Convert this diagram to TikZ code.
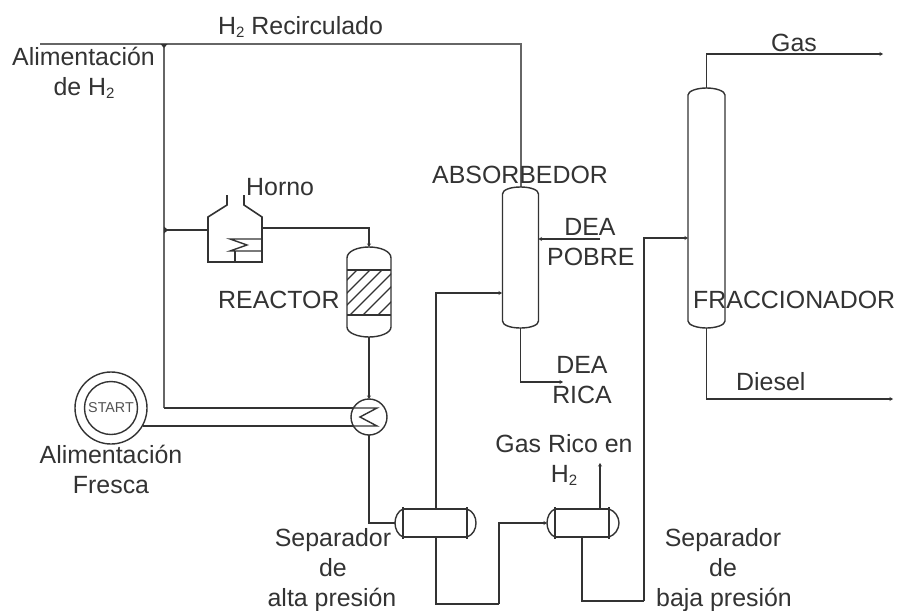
\documentclass[tikz,border=0pt]{standalone}
\usepackage{fontspec}
\setmainfont{Liberation Sans}
\usetikzlibrary{arrows.meta}
\definecolor{ink}{HTML}{333333}
\newcommand{\Hdos}{H\raisebox{-3pt}{\fontsize{15}{15}\selectfont 2}}
\tikzset{
  x=1pt,y=-1pt,
  pipe/.style={draw=ink,line width=1.5pt,line join=miter},
  heavypipe/.style={draw=ink!75,line width=2pt},
  flow/.style={pipe,-{Stealth[length=3.5pt,width=4pt]}},
  equip/.style={draw=ink,line width=1.4pt},
  tick/.style={fill=ink,draw=none},
  shell/.style={draw=none,rectangle,inner sep=0pt,outer sep=0pt},
  lbl/.style={anchor=base,inner sep=0pt,text=ink,font=\fontsize{24.9}{30}\selectfont},
  lblw/.style={anchor=base west,inner sep=0pt,text=ink,font=\fontsize{24.9}{30}\selectfont},
}
\begin{document}
\begin{tikzpicture}
\useasboundingbox (0,0) rectangle (898,611);
\fill[white] (0,0) rectangle (898,611);

% --- equipment anchors
\node[shell,minimum width=36pt,minimum height=141pt] (abs) at (520.5,257.5) {};
\node[shell,minimum width=37pt,minimum height=240pt] (frac) at (706.5,208) {};
\node[shell,minimum width=44pt,minimum height=90pt] (reac) at (369,292) {};
\node[shell,minimum width=54pt,minimum height=45pt] (horno) at (235,239.5) {};
\node[circle,equip,minimum size=36pt,inner sep=0pt,outer sep=0pt] (hx) at (369,417) {};
\node[circle,equip,minimum size=72pt,inner sep=0pt,outer sep=0pt] (start) at (111,408) {};
\node[circle,equip,minimum size=53pt,inner sep=0pt,outer sep=0pt,text=ink!85,font=\fontsize{14.3}{14}\selectfont] (startin) at (111,408) {START};
\node[shell,minimum width=81pt,minimum height=28pt] (sepA) at (435.5,523) {};
\node[shell,minimum width=72pt,minimum height=28pt] (sepB) at (583,523) {};

% --- named stream ends
\coordinate (h2in) at (40,43.5);
\coordinate (tee1) at (164,43.5);
\coordinate (tee2) at (164,230);
\coordinate (corner) at (164,408);
\coordinate (hxA) at (353,408);
\coordinate (hxB) at (353,426);
\coordinate (startout) at (143,426);
\coordinate (hornoIn) at (208,230);
\coordinate (hornoOut) at (262,228);
\coordinate (absGas) at (502,293);
\coordinate (absDea) at (538.5,239);
\coordinate (deaP) at (600,239);
\coordinate (deaR) at (563,382);
\coordinate (fracIn) at (688,238);
\coordinate (gasEnd) at (883,54);
\coordinate (dieselEnd) at (893,399);
\coordinate (gasRico) at (600,463);
\coordinate (sepAtop) at (436,509);
\coordinate (sepAbot) at (436,537);
\coordinate (sepBtop) at (600,509);
\coordinate (sepBbot) at (582,537);
\coordinate (low1) at (499,604);
\coordinate (low2) at (644,601);

% --- H2 lines
\draw[heavypipe] (h2in) -- (tee1);
\draw[heavypipe] (tee1) -| (abs.north);
\draw[heavypipe] (tee1) -- (tee2);
\draw[heavypipe] (tee2) -- (corner);
\draw[pipe] (corner) -- (hxA);
\draw[pipe] (startout) -- (hxB);
\draw[pipe] (tee2) -- (hornoIn);
\fill[tick] (160.5,44) -- (167.5,44) -- (164,48) -- cycle;
\fill[tick] (164,226.5) -- (168,230) -- (164,233.5) -- cycle;

% --- furnace
\draw[equip,line width=1.6pt] (227,195) -- (227,205) -- (208,217) -- (208,262) -- (262,262) -- (262,217) -- (244,205) -- (244,195);
\draw[equip] (262,239) -- (230,239) -- (247,245) -- (230,251) -- (262,251);
\draw[equip] (235,251) -- (235,262);
\draw[flow] (hornoOut) -| (reac.north);

% --- reactor
\draw[equip] (347,258) .. controls (347,251) and (358,247) .. (369,247) .. controls (380,247) and (391,251) .. (391,258) -- (391,327) .. controls (391,333) and (380,337) .. (369,337) .. controls (358,337) and (347,333) .. (347,327) -- cycle;
\draw[equip] (347,270) -- (391,270);
\draw[equip,line width=1.8pt] (347,315) -- (391,315);
\begin{scope}
\clip (347,270) rectangle (391,315);
\foreach \k in {627,640,652,665,678,693}{
  \draw[equip,line width=1.1pt] (\k-347,347) -- (\k-247,247);
}
\end{scope}
\draw[flow] (reac.south) -- (hx.north);

% --- exchanger
\draw[equip] (hxA) -- (377,408) -- (360,417) -- (377,426) -- (hxB);

% --- to separator A
\draw[pipe] (hx.south) |- (sepA.west);

% --- separator A
\draw[equip] (403,509) -- (467,509) (403,537) -- (467,537);
\draw[equip,line width=1.6pt] (403,507) -- (403,539);
\draw[equip,line width=1.9pt] (467,507) -- (467,539);
\draw[equip] (403,509) .. controls (398,511) and (395,517) .. (395,523) .. controls (395,529) and (398,535) .. (403,537);
\draw[equip] (467,509) .. controls (473,511) and (476,517) .. (476,523) .. controls (476,529) and (473,535) .. (467,537);
\draw[flow] (sepAtop) |- (absGas);
\draw[pipe] (sepAbot) |- (low1);
\draw[flow] (low1) |- (sepB.west);

% --- separator B
\draw[equip] (555,509) -- (609,509) (555,537) -- (609,537);
\draw[equip,line width=1.6pt] (555,507) -- (555,539) (609,507) -- (609,539);
\draw[equip] (555,509) .. controls (550,511) and (547,517) .. (547,523) .. controls (547,529) and (550,535) .. (555,537);
\draw[equip] (609,509) .. controls (615,511) and (619,517) .. (619,523) .. controls (619,529) and (615,535) .. (609,537);
\draw[flow] (sepBtop) -- (gasRico);
\draw[pipe] (sepBbot) |- (low2);
\draw[flow] (low2) |- (fracIn);

% --- absorber
\draw[equip] (502.5,194) .. controls (502.5,190) and (510,187) .. (520.5,187) .. controls (531,187) and (538.5,190) .. (538.5,194) -- (538.5,321) .. controls (538.5,325) and (531,328) .. (520.5,328) .. controls (510,328) and (502.5,325) .. (502.5,321) -- cycle;
\draw[flow] (deaP) -- (absDea);
\draw[flow] (abs.south) |- (deaR);

% --- fractionator
\draw[equip] (688,95) .. controls (688,91) and (697,88) .. (706.5,88) .. controls (716,88) and (725,91) .. (725,95) -- (725,321) .. controls (725,325) and (716,328) .. (706.5,328) .. controls (697,328) and (688,325) .. (688,321) -- cycle;
\draw[flow] (frac.north) |- (gasEnd);
\draw[flow] (frac.south) |- (dieselEnd);

% --- labels
\node[lblw] (t1) at (218,34) {\Hdos{} Recirculado};
\node[lbl] (t2) at (83.5,65) {Alimentación};
\node[lbl] (t3) at (84,95) {de \Hdos};
\node[lblw] (t4) at (246,195) {Horno};
\node[lblw] (t5) at (218,308) {REACTOR};
\node[lblw] (t6) at (432,183) {ABSORBEDOR};
\node[lbl] (t7) at (590,235) {DEA};
\node[lblw] (t8) at (547,265) {POBRE};
\node[lbl] (t9) at (582,373) {DEA};
\node[lbl] (t10) at (582,403) {RICA};
\node[lblw] (t11) at (693,308) {FRACCIONADOR};
\node[lbl] (t12) at (794,51) {Gas};
\node[lblw] (t13) at (736,390) {Diesel};
\node[lbl] (t14) at (111,463) {Alimentación};
\node[lbl] (t15) at (111,493) {Fresca};
\node[lbl] (t16) at (564,452) {Gas Rico en};
\node[lbl] (t17) at (564,482) {\Hdos};
\node[lbl] (t18) at (333,546) {Separador};
\node[lbl] (t19) at (333,576) {de};
\node[lbl] (t20) at (332,606) {alta presión};
\node[lbl] (t21) at (723,546) {Separador};
\node[lbl] (t22) at (723,576) {de};
\node[lbl] (t23) at (724,606) {baja presión};
\end{tikzpicture}
\end{document}
